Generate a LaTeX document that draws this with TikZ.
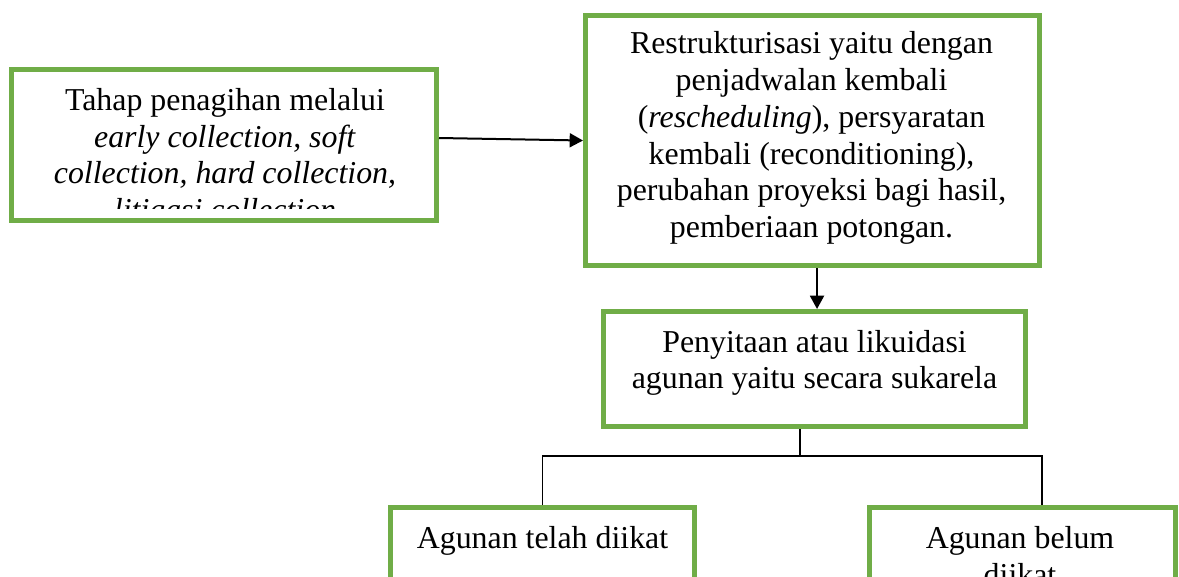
\documentclass[tikz,border=0pt]{standalone}
\usepackage{fontspec}
\setmainfont{Liberation Serif}
\usetikzlibrary{arrows.meta}
\definecolor{boxgreen}{HTML}{70AD47}
\tikzset{
  gbox/.style={draw=boxgreen, line width=3.75pt, rectangle, inner sep=0pt},
  txt/.style={inner sep=0pt, anchor=base, font=\fontsize{23.9}{27.6}\selectfont},
  arr/.style={line width=1.5pt, -{Triangle[length=10pt,width=10.5pt]}},
  conn/.style={line width=1.1pt},
}
\begin{document}
\begin{tikzpicture}[x=0.75pt, y=-0.75pt]
\useasboundingbox (0,0) rectangle (1179,576);
\clip (0,0) rectangle (1179,576);
\fill[white] (0,0) rectangle (1179,576);

% boxes
\node[gbox, minimum width={425*0.75pt}, minimum height={151*0.75pt}] (b1) at (224,145) {};
\node[gbox, minimum width={454*0.75pt}, minimum height={250*0.75pt}] (b2) at (812.5,140.5) {};
\node[gbox, minimum width={422*0.75pt}, minimum height={115*0.75pt}] (b3) at (814.5,369) {};
\node[gbox, minimum width={304*0.75pt}, minimum height={120*0.75pt}] (b4) at (542.5,567.5) {};
\node[gbox, minimum width={306*0.75pt}, minimum height={120*0.75pt}] (b5) at (1022.5,567.5) {};

% texts of left box
\node[txt] (t1a) at (225,110.7) {Tahap penagihan melalui};
\node[txt] (t1b) at (225,147) {\textit{early collection, soft}};
\node[txt] (t1c) at (225,183.5) {\textit{collection, hard collection,}};
\begin{scope}
  \clip (0,0) rectangle (1179,208);
  \node[txt] (t1d) at (225,220) {\textit{litigasi collection}};
\end{scope}

% texts of top right box
\foreach \t [count=\i] in {{Restrukturisasi yaitu dengan},{penjadwalan kembali},{(\textit{rescheduling}), persyaratan},{kembali (reconditioning),},{perubahan proyeksi bagi hasil,},{pemberiaan potongan.}}
  \node[txt] (t2\i) at (811.5,{53.3+36.9*(\i-1)}) {\t};

% middle box
\node[txt] (t3a) at (814.5,352) {Penyitaan atau likuidasi};
\node[txt] (t3b) at (814.5,388.5) {agunan yaitu secara sukarela};

% bottom boxes
\node[txt] (t4a) at (542.5,548) {Agunan telah diikat};
\node[txt] (t5a) at (1020,548) {Agunan belum};
\node[txt] (t5b) at (1020,585) {diikat};

% connectors
\draw[arr] ([yshift=5.25pt]b1.east) -- (b2.west);
\draw[arr] ([xshift=3.4pt]b2.south) -- ([xshift=3.4pt]b2.south |- b3.north);
\coordinate (j) at (800,456);
\coordinate (jr) at (1042,456);
\draw[conn] (b3.south -| j) -- (j);
\draw[conn] (b4.north) |- (jr) -- (jr |- b5.north);
\end{tikzpicture}
\end{document}
